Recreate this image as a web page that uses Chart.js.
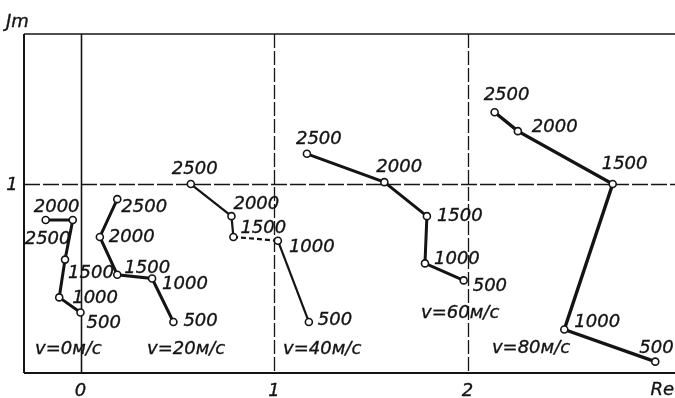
<!DOCTYPE html>
<html>
<head>
<meta charset="utf-8">
<script src="https://cdn.jsdelivr.net/npm/chart.js@4/dist/chart.umd.min.js"></script>
<style>
  html, body { margin: 0; padding: 0; background: #fff; }
  #wrap { width: 675px; height: 398px; }
</style>
</head>
<body>
<div id="wrap"><canvas id="c" width="675" height="398"></canvas></div>
<script>
// Frequencies (Hz) of the points on every curve
const frequencies = [500, 1000, 1500, 2000, 2500];

// Flow speeds, one curve each
const speedLabels = ['v=0м/с', 'v=20м/с', 'v=40м/с', 'v=60м/с', 'v=80м/с'];

// Real parts, per speed, in frequency order
const re0  = [0.00, -0.11, -0.08, -0.04, -0.18];
const re20 = [0.48, 0.37, 0.19, 0.10, 0.19];
const re40 = [1.18, 1.02, 0.79, 0.78, 0.57];
const re60 = [1.98, 1.78, 1.79, 1.57, 1.17];
const re80 = [2.97, 2.50, 2.75, 2.26, 2.14];

// Imaginary parts, per speed, in frequency order
const im0  = [0.32, 0.40, 0.60, 0.81, 0.81];
const im20 = [0.27, 0.50, 0.52, 0.72, 0.92];
const im40 = [0.27, 0.70, 0.72, 0.83, 1.00];
const im60 = [0.49, 0.58, 0.83, 1.01, 1.16];
const im80 = [0.06, 0.23, 1.00, 1.28, 1.38];

// Axis ticks
const reTicks = [0, 1, 2];
const imTicks = [1];
const reTitle = 'Re';
const imTitle = 'Jm';

// Placement of the frequency labels (pixel offsets: left edge, baseline)
const freqLabelOffsets = [
  [[6, 15], [13, 6], [3, 18], [-39, -8], [-21, 24]],
  [[10, 4], [10, 10], [7, -2], [9, 5], [4, 13]],
  [[9, 3], [11, 11], [7, -4], [2, -7], [-19, -10]],
  [[9, 11], [9, 1], [10, 5], [-8, -10], [-11, -10]],
  [[-16, -9], [10, -3], [-11, -15], [14, 1], [-11, -12]]
];
// Placement of the speed captions (data coordinates of left edge / baseline)
const speedLabelAnchors = [
  [-0.235, 0.10], [0.344, 0.10], [1.047, 0.10], [1.76, 0.29], [2.126, 0.105]
];

const lineWidths = [3, 3, 2.2, 3, 3.4];
const INK = '#141414';
const FONT = 'italic 18px "DejaVu Sans"';

const series = [[re0, im0], [re20, im20], [re40, im40], [re60, im60], [re80, im80]];

const datasets = series.map(([re, im], i) => ({
  label: speedLabels[i],
  data: re.map((x, k) => ({ x: x, y: im[k] })),
  showLine: true,
  borderColor: INK,
  borderWidth: lineWidths[i],
  pointRadius: 3.5,
  pointBorderWidth: 1.6,
  pointBackgroundColor: '#fff',
  pointBorderColor: INK,
  segment: i === 2 ? { borderDash: ctx => (ctx.p0DataIndex === 1 ? [5, 3] : undefined) } : undefined
}));

// text with a hairline outline so the glyphs read a little heavier
function inkText(ctx, s, px, py) {
  ctx.fillText(s, px, py);
  ctx.strokeText(s, px, py);
}

const framePlugin = {
  id: 'frame',
  beforeDatasetsDraw(chart) {
    const { ctx, chartArea: a, scales: { x, y } } = chart;
    ctx.save();
    ctx.strokeStyle = INK;
    // outer frame: left, top, bottom
    ctx.lineWidth = 2;
    ctx.beginPath();
    ctx.moveTo(a.left, a.top); ctx.lineTo(a.left, a.bottom);
    ctx.moveTo(a.left, a.bottom); ctx.lineTo(a.right, a.bottom);
    ctx.stroke();
    ctx.lineWidth = 1.5;
    ctx.beginPath();
    ctx.moveTo(a.left, a.top); ctx.lineTo(a.right, a.top);
    ctx.stroke();
    // vertical grid lines at the Re ticks
    reTicks.forEach(v => {
      const px = Math.round(x.getPixelForValue(v)) + 0.5;
      ctx.lineWidth = v === 0 ? 1.6 : 1.3;
      ctx.setLineDash(v === 0 ? [] : [14, 3]);
      ctx.beginPath();
      ctx.moveTo(px, a.top); ctx.lineTo(px, a.bottom);
      ctx.stroke();
    });
    // horizontal grid lines at the Im ticks
    imTicks.forEach(v => {
      const py = Math.round(y.getPixelForValue(v)) + 0.5;
      ctx.lineWidth = 1.4;
      ctx.setLineDash([16, 3]);
      ctx.beginPath();
      ctx.moveTo(a.left, py); ctx.lineTo(a.right, py);
      ctx.stroke();
    });
    ctx.restore();
  },
  afterDatasetsDraw(chart) {
    const { ctx, chartArea: a, scales: { x, y } } = chart;
    ctx.save();
    ctx.fillStyle = INK;
    ctx.strokeStyle = INK;
    ctx.lineWidth = 0.35;
    ctx.font = FONT;
    ctx.textBaseline = 'alphabetic';
    // frequency labels beside the points
    chart.data.datasets.forEach((ds, i) => {
      const meta = chart.getDatasetMeta(i);
      ctx.textAlign = 'left';
      meta.data.forEach((pt, k) => {
        const [dx, dy] = freqLabelOffsets[i][k];
        inkText(ctx, String(frequencies[k]), pt.x + dx, pt.y + dy);
      });
      // speed caption
      const [ax, ay] = speedLabelAnchors[i];
      inkText(ctx, speedLabels[i], x.getPixelForValue(ax), y.getPixelForValue(ay));
    });
    // tick labels
    ctx.textAlign = 'center';
    reTicks.forEach(v => inkText(ctx, String(v), x.getPixelForValue(v), 396));
    imTicks.forEach(v => inkText(ctx, String(v), 12, y.getPixelForValue(v) + 6));
    // axis titles
    ctx.textAlign = 'right';
    inkText(ctx, reTitle, a.right - 1, 395);
    ctx.textAlign = 'left';
    inkText(ctx, imTitle, 6, 27);
    ctx.restore();
  }
};

new Chart(document.getElementById('c'), {
  type: 'scatter',
  data: { datasets },
  options: {
    responsive: false,
    animation: false,
    layout: { autoPadding: false, padding: { left: 24, right: 0, top: 34, bottom: 25 } },
    plugins: { legend: { display: false }, tooltip: { enabled: false } },
    scales: {
      x: { type: 'linear', min: -0.292, max: 3.072, display: false },
      y: { type: 'linear', min: 0, max: 1.794, display: false }
    }
  },
  plugins: [framePlugin]
});
</script>
</body>
</html>
